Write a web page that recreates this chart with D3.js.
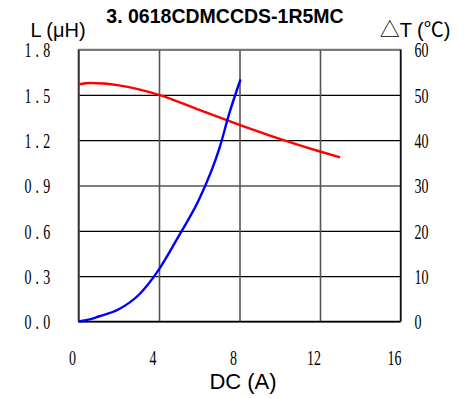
<!DOCTYPE html>
<html>
<head>
<meta charset="utf-8">
<script src="https://cdn.jsdelivr.net/npm/d3@7"></script>
<style>
  body { margin: 0; background: #fff; }
  svg { display: block; }
  .tick text { font-family: "Liberation Serif", "DejaVu Serif", serif; font-size: 20px; fill: #000; }
</style>
</head>
<body>
<div id="chart"></div>
<script>
// chart data
const title = "3. 0618CDMCCDS-1R5MC";
const xTicks = [0, 4, 8, 12, 16];
const lTicks = [0, 0.3, 0.6, 0.9, 1.2, 1.5, 1.8];
const tTicks = [0, 10, 20, 30, 40, 50, 60];

// inductance vs DC current (left axis)
const currentL = [0, 0.6, 2, 4, 6, 8, 10, 12, 13.0];
const inductance = [1.569, 1.578, 1.563, 1.50, 1.40, 1.302, 1.209, 1.125, 1.086];

// temperature rise vs DC current (right axis)
const currentT = [0, 0.5, 1, 2, 3, 4, 5, 6, 7, 7.5, 8.05];
const tempRise = [0, 0.4, 1.1, 2.7, 5.9, 11.5, 19.0, 27.0, 38.2, 46, 53.4];

/**
 * Layout.
 */
const width = 470, height = 398;
const plot = { left: 78.5, right: 400.5, top: 49.5, bottom: 321.5 };
const sx = 0.7;
const narrow = `scale(${sx},1)`;

const svg = d3.select("#chart").append("svg")
  .attr("width", width)
  .attr("height", height);

const x = d3.scaleLinear().domain([0, 16]).range([plot.left, plot.right]);
const yL = d3.scaleLinear().domain([0, 1.8]).range([plot.bottom, plot.top]);
const yT = d3.scaleLinear().domain([0, 60]).range([plot.bottom, plot.top]);

// horizontal grid + left labels
const leftAxis = svg.append("g")
  .attr("transform", `translate(${plot.left},0)`)
  .call(d3.axisLeft(yL).tickValues(lTicks).tickFormat(d3.format(".1f"))
    .tickSize(-(plot.right - plot.left)).tickPadding(0));
leftAxis.select(".domain").remove();
leftAxis.selectAll(".tick line").attr("stroke", "#000").attr("stroke-width", 1.2);
leftAxis.selectAll(".tick text")
  .attr("x", -24 / sx)
  .attr("dy", "0.36em")
  .style("letter-spacing", "6px")
  .attr("transform", narrow);

// right labels
const rightAxis = svg.append("g")
  .attr("transform", `translate(${plot.right},0)`)
  .call(d3.axisRight(yT).tickValues(tTicks).tickSize(0).tickPadding(0));
rightAxis.select(".domain").remove();
rightAxis.selectAll(".tick text")
  .attr("x", 14 / sx)
  .attr("dy", "0.36em")
  .attr("transform", narrow);

// vertical grid + bottom labels
const bottomAxis = svg.append("g")
  .attr("transform", `translate(0,${plot.bottom})`)
  .call(d3.axisBottom(x).tickValues(xTicks).tickSize(-(plot.bottom - plot.top)).tickPadding(0));
bottomAxis.select(".domain").remove();
bottomAxis.selectAll(".tick line").attr("stroke", "#555").attr("stroke-width", 1.6);
bottomAxis.selectAll(".tick text")
  .attr("x", -6.5 / sx)
  .attr("y", 36.5)
  .attr("dy", "0.34em")
  .attr("transform", narrow);

// frame
const frame = svg.append("g").attr("fill", "none");
frame.append("line").attr("x1", plot.left).attr("x2", plot.right)
  .attr("y1", plot.top).attr("y2", plot.top).attr("stroke", "#777").attr("stroke-width", 1.5);
frame.append("line").attr("x1", plot.left).attr("x2", plot.left)
  .attr("y1", plot.top).attr("y2", plot.bottom).attr("stroke", "#333").attr("stroke-width", 1.6);
frame.append("line").attr("x1", plot.right).attr("x2", plot.right)
  .attr("y1", plot.top).attr("y2", plot.bottom).attr("stroke", "#111").attr("stroke-width", 1.4);
frame.append("line").attr("x1", plot.left).attr("x2", plot.right)
  .attr("y1", plot.bottom).attr("y2", plot.bottom).attr("stroke", "#000").attr("stroke-width", 1.6);

// curves
const lineL = d3.line()
  .x((d, i) => x(currentL[i]))
  .y(d => yL(d))
  .curve(d3.curveMonotoneX);

const lineT = d3.line()
  .x((d, i) => x(currentT[i]))
  .y(d => yT(d))
  .curve(d3.curveMonotoneX);

svg.append("path")
  .attr("d", lineL(inductance))
  .attr("fill", "none")
  .attr("stroke", "#ff0000")
  .attr("stroke-width", 2.4);

svg.append("path")
  .attr("d", lineT(tempRise))
  .attr("fill", "none")
  .attr("stroke", "#0000ff")
  .attr("stroke-width", 2.4);

// titles
svg.append("text")
  .attr("x", 225).attr("y", 23)
  .attr("text-anchor", "middle")
  .style("font-family", "'Liberation Sans', Arial, sans-serif")
  .style("font-weight", "bold")
  .style("font-size", "19.5px")
  .text(title);

svg.append("text")
  .attr("x", 58).attr("y", 37)
  .attr("text-anchor", "middle")
  .style("font-family", "'Liberation Sans', Arial, sans-serif")
  .style("font-size", "20px")
  .text("L (μH)");

svg.append("text")
  .attr("x", 415).attr("y", 37)
  .attr("text-anchor", "middle")
  .style("font-family", "'Liberation Sans', 'Noto Sans CJK SC', sans-serif")
  .style("font-size", "20px")
  .text("△T (℃)");

svg.append("text")
  .attr("x", 243).attr("y", 389)
  .attr("text-anchor", "middle")
  .style("font-family", "'Liberation Sans', Arial, sans-serif")
  .style("font-size", "22px")
  .text("DC (A)");
</script>
</body>
</html>
